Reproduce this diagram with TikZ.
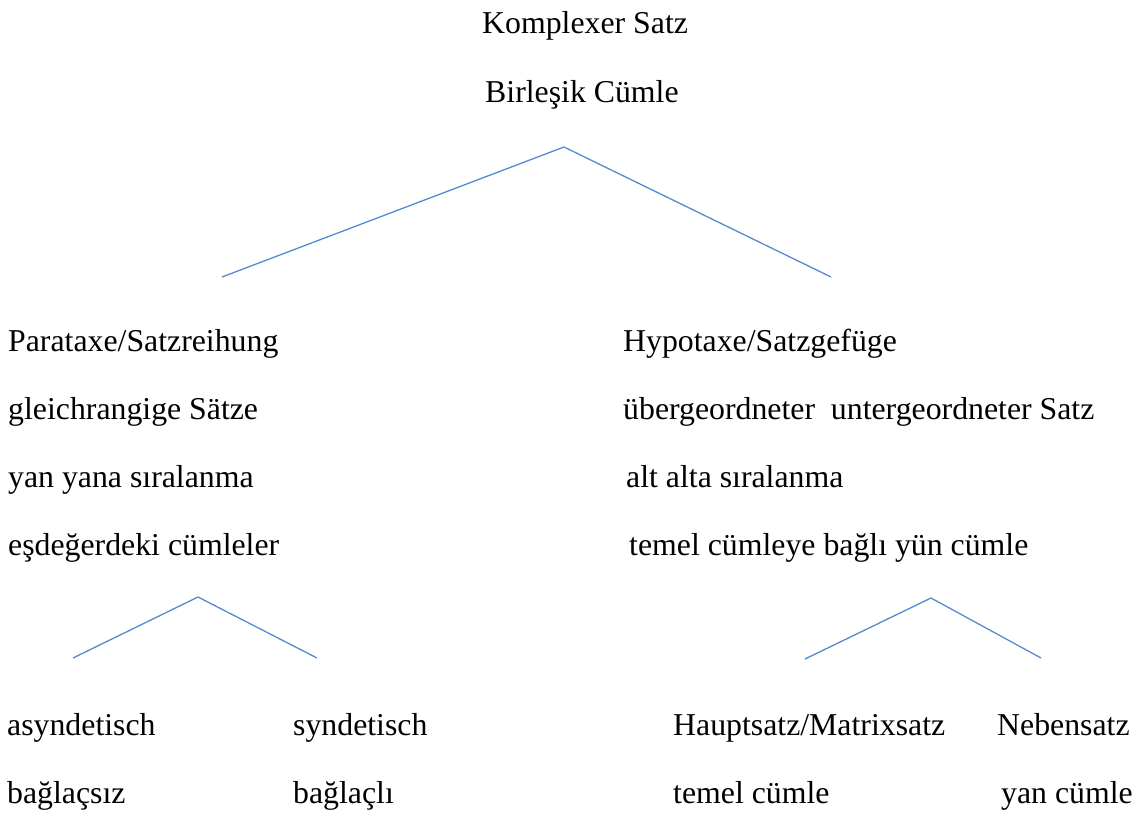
\documentclass[tikz,border=0pt]{standalone}
\usepackage{fontspec}
\setmainfont{Liberation Serif}
\definecolor{treeline}{RGB}{86,138,206}
\begin{document}
\begin{tikzpicture}[x=1pt,y=-1pt,
  lbl/.style={anchor=base west,inner sep=0pt,font=\fontsize{31.8}{36}\selectfont},
  branch/.style={draw=treeline,line width=1.3pt}]
\useasboundingbox (0,0) rectangle (1144,817);

% top heading
\node[lbl] (top1) at (482,33) {Komplexer Satz};
\node[lbl] (top2) at (485,102) {Birleşik Cümle};

% left column
\node[lbl] (p1) at (8,351) {Parataxe/Satzreihung};
\node[lbl] (p2) at (8,419) {gleichrangige Sätze};
\node[lbl] (p3) at (8,487) {yan yana sıralanma};
\node[lbl] (p4) at (8,555) {eşdeğerdeki cümleler};

% right column
\node[lbl] (h1) at (623,351) {Hypotaxe/Satzgefüge};
\node[lbl] (h2) at (623,419) {übergeordneter\ \ untergeordneter Satz};
\node[lbl] (h3) at (626,487) {alt alta sıralanma};
\node[lbl] (h4) at (629,555) {temel cümleye bağlı yün cümle};

% bottom row
\node[lbl] (a1) at (7,735) {asyndetisch};
\node[lbl] (a2) at (7,803) {bağlaçsız};
\node[lbl] (s1) at (293,735) {syndetisch};
\node[lbl] (s2) at (293,803) {bağlaçlı};
\node[lbl] (m1) at (673,735) {Hauptsatz/Matrixsatz};
\node[lbl] (m2) at (673,803) {temel cümle};
\node[lbl] (n1) at (997,735) {Nebensatz};
\node[lbl] (n2) at (1001,803) {yan cümle};

% branch points
\coordinate (topApex) at (564,147);
\coordinate (topL) at (222,277);
\coordinate (topR) at (831,277);
\coordinate (leftApex) at (198,597);
\coordinate (leftL) at (73,658);
\coordinate (leftR) at (317,658);
\coordinate (rightApex) at (931,598);
\coordinate (rightL) at (805,659);
\coordinate (rightR) at (1041,658);

\draw[branch] (topL) -- (topApex) -- (topR);
\draw[branch] (leftL) -- (leftApex) -- (leftR);
\draw[branch] (rightL) -- (rightApex) -- (rightR);
\end{tikzpicture}
\end{document}
